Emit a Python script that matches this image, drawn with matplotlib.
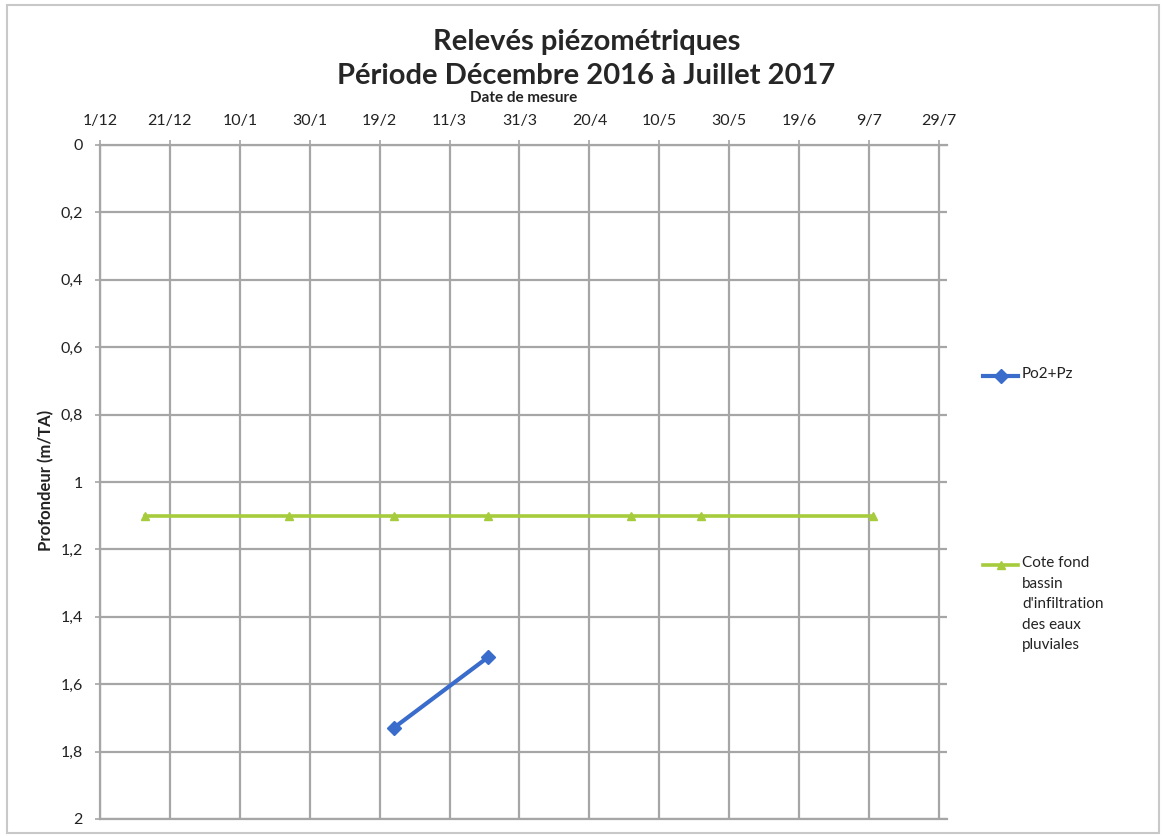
import matplotlib
matplotlib.use("Agg")
import matplotlib.pyplot as plt
import matplotlib.dates as mdates
from matplotlib.lines import Line2D
import datetime as dt

# Data
dates_fond = ["2016-12-14", "2017-01-24", "2017-02-23", "2017-03-22",
              "2017-05-02", "2017-05-22", "2017-07-10"]
fond = [1.1, 1.1, 1.1, 1.1, 1.1, 1.1, 1.1]
dates_pz = ["2017-02-23", "2017-03-22"]
pz = [1.73, 1.52]
tick_start = "2016-12-01"
tick_step_days = 20
n_ticks = 13
y_ticks = [0, 0.2, 0.4, 0.6, 0.8, 1.0, 1.2, 1.4, 1.6, 1.8, 2.0]
y_labels = ["0", "0,2", "0,4", "0,6", "0,8", "1", "1,2", "1,4", "1,6", "1,8", "2"]
title_l1 = "Relevés piézométriques"
title_l2 = "Période Décembre 2016 à Juillet 2017"
xlabel = "Date de mesure"
ylabel = "Profondeur (m/TA)"
label_pz = "Po2+Pz"
label_fond = "Cote fond\nbassin\nd'infiltration\ndes eaux\npluviales"

plt.rcParams['font.family'] = ['Lato', 'DejaVu Sans']

W, H = 1163, 836
fig = plt.figure(figsize=(W / 100, H / 100), dpi=100)
fig.patch.set_facecolor('white')

border = plt.Rectangle((7 / W, 3 / H), 1152 / W, 828 / H, transform=fig.transFigure,
                       fill=False, edgecolor='#c8c8c8', linewidth=1.5)
fig.add_artist(border)

left, right, top, bottom = 100, 947, 145, 819
ax = fig.add_axes([left / W, 1 - bottom / H, (right - left) / W, (bottom - top) / H])

d0 = dt.datetime.strptime(tick_start, "%Y-%m-%d")
ticks = [d0 + dt.timedelta(days=tick_step_days * i) for i in range(n_ticks)]
xf = [dt.datetime.strptime(s, "%Y-%m-%d") for s in dates_fond]
xp = [dt.datetime.strptime(s, "%Y-%m-%d") for s in dates_pz]

green = '#A6CB3C'
blue = '#3A6CCB'
ax.plot(xf, fond, color=green, lw=2.6, marker='^', ms=6, mfc=green, mec=green,
        label=label_fond, zorder=3)
ax.plot(xp, pz, color=blue, lw=3.0, marker='D', ms=7, mfc=blue, mec=blue,
        label=label_pz, zorder=4)

ax.set_xlim(mdates.date2num(d0), mdates.date2num(d0) + 242.3)
ax.set_ylim(2, 0)
ax.set_xticks(ticks)
ax.set_xticklabels([f"{t.day}/{t.month}" for t in ticks])
ax.set_yticks(y_ticks)
ax.set_yticklabels(y_labels)

ax.xaxis.tick_top()
grid_c = '#a6a6a6'
ax.grid(True, color=grid_c, lw=1.6)
ax.set_axisbelow(True)
ax.spines['right'].set_visible(False)
for s in ['top', 'left', 'bottom']:
    ax.spines[s].set_color(grid_c)
    ax.spines[s].set_linewidth(1.6)
ax.tick_params(axis='both', direction='inout', length=7, width=1.2, color=grid_c,
               labelsize=11.5, labelcolor='#222222')
ax.tick_params(axis='x', pad=9)
ax.tick_params(axis='y', pad=9)

fig.text(524 / W, 1 - 98 / H, xlabel, ha='center', va='center', fontsize=11,
         fontweight='bold', color='#222222')
fig.text(46 / W, 1 - 480 / H, ylabel, ha='center', va='center', rotation=90,
         fontsize=12, fontweight='bold', color='#222222')
fig.text(587 / W, 1 - 42 / H, title_l1, ha='center', va='center', fontsize=21,
         fontweight='bold', color='#262626')
fig.text(586 / W, 1 - 76 / H, title_l2, ha='center', va='center', fontsize=21,
         fontweight='bold', color='#262626')

hx0, hx1, tx = 983 / W, 1018 / W, 1022 / W
for (yy, col, mk, lab, lw, ms) in [(376, blue, 'D', label_pz, 3.0, 7),
                                   (565, green, '^', label_fond, 2.6, 6)]:
    yf = 1 - yy / H
    fig.add_artist(Line2D([hx0, hx1], [yf, yf], transform=fig.transFigure,
                          color=col, lw=lw))
    fig.add_artist(Line2D([(hx0 + hx1) / 2], [yf], transform=fig.transFigure,
                          color=col, marker=mk, ms=ms, mfc=col, mec=col))
    fig.text(tx, yf + 9 / H, lab, ha='left', va='top', fontsize=11,
             color='#222222', linespacing=1.6)

fig.savefig("out.png", dpi=100, facecolor='white')
